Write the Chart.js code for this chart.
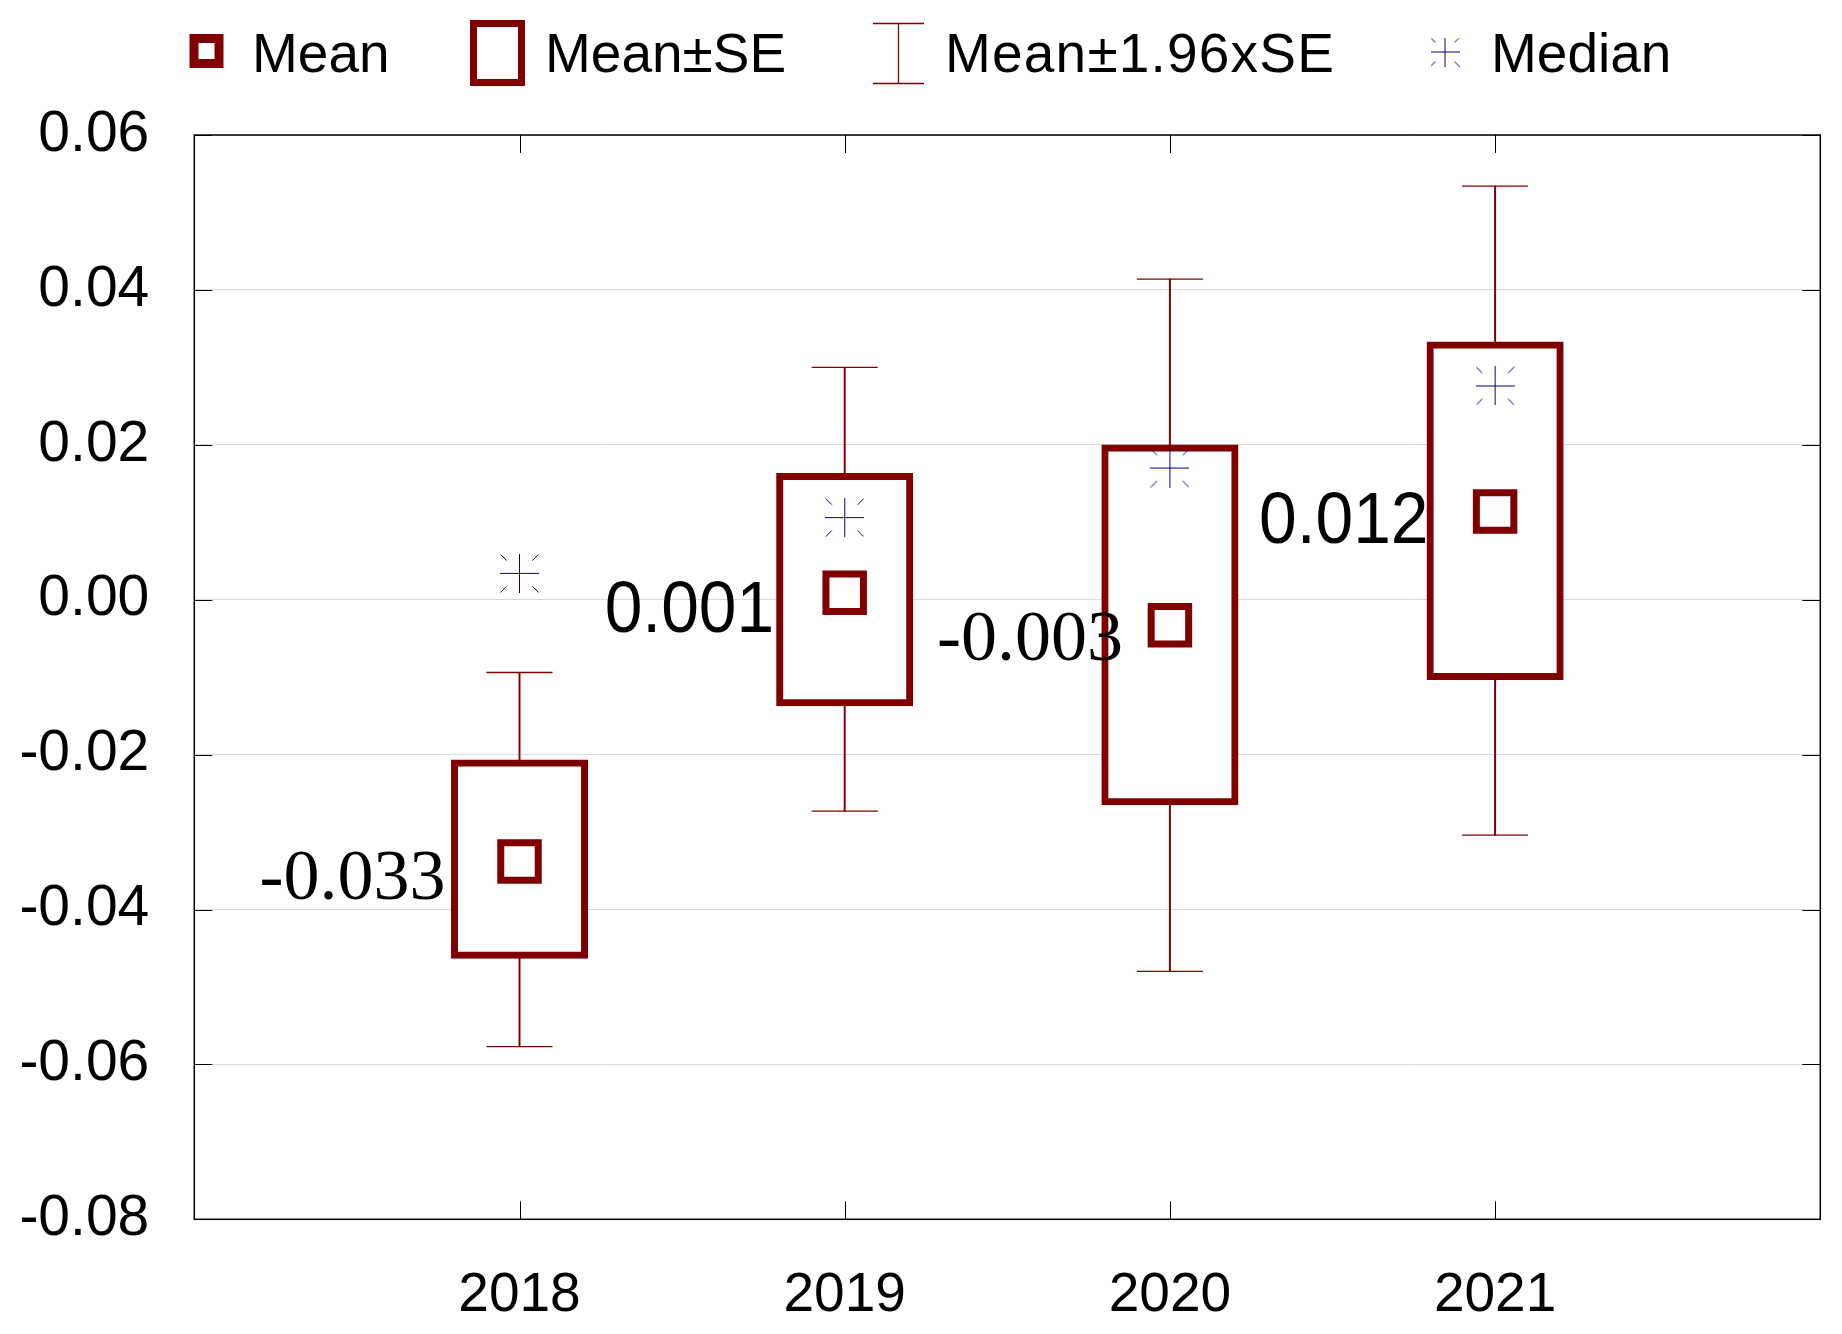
<!DOCTYPE html>
<html>
<head>
<meta charset="utf-8">
<script src="https://cdn.jsdelivr.net/npm/chart.js@4.4.1/dist/chart.umd.min.js"></script>
<style>
  html, body { margin: 0; padding: 0; background: #fff; overflow: hidden; }
  #mon-graphique { display: block; width: 1842px; height: 1334px; }
</style>
</head>
<body>
<canvas id="mon-graphique" width="1842" height="1334"></canvas>
<script>
// valeurs
const years = [2018, 2019, 2020, 2021];
const means = [-0.0338, 0.0009, -0.0033, 0.0114];
const meanText = ["-0.033", "0.001", "-0.003", "0.012"];
const seLow = [-0.0459, -0.0133, -0.0261, -0.0099];
const seHigh = [-0.0211, 0.0159, 0.0196, 0.0329];
const ciLow = [-0.0577, -0.0273, -0.0480, -0.0304];
const ciHigh = [-0.0094, 0.0300, 0.0414, 0.0534];
const medians = [0.0034, 0.0106, 0.0170, 0.0276];
const yTicks = [-0.08, -0.06, -0.04, -0.02, 0.00, 0.02, 0.04, 0.06];

const ROUGE = "#800000";
const MARINE = "#000080";
const SANS = '"Liberation Sans", Arial, sans-serif';
const SERIF = '"Liberation Serif", "Times New Roman", serif';

// petite étoile : croix pleine + bouts de diagonales
function etoile(taille, epais) {
  const c = document.createElement("canvas");
  c.width = taille; c.height = taille;
  const g = c.getContext("2d");
  const h = taille / 2;
  g.strokeStyle = MARINE;
  g.lineWidth = epais;
  g.beginPath();
  g.moveTo(h, 0); g.lineTo(h, taille);
  g.moveTo(0, h); g.lineTo(taille, h);
  [[-1, -1], [1, -1], [-1, 1], [1, 1]].forEach(([sx, sy]) => {
    g.moveTo(h + sx * h * 0.97, h + sy * h * 0.97);
    g.lineTo(h + sx * h * 0.66, h + sy * h * 0.66);
  });
  g.stroke();
  return c;
}

const etiquettes = {
  id: "etiquettes",
  afterDatasetsDraw(chart, args, opts) {
    const { ctx, scales: { x, y } } = chart;
    years.forEach((an, i) => {
      const px = x.getPixelForValue(an) + opts.dx[i];
      const py = y.getPixelForValue(means[i]) + opts.dy[i];
      const txt = meanText[i];
      ctx.save();
      ctx.fillStyle = "#000";
      ctx.textAlign = "left";
      ctx.textBaseline = "alphabetic";
      ctx.translate(px, py);
      if (txt.startsWith("-")) {
        ctx.font = "72px " + SERIF;
      } else {
        ctx.font = "72px " + SANS;
        ctx.scale(0.94, 1);
      }
      ctx.fillText(txt, 0, 0);
      ctx.restore();
    });
  }
};

const cadre = {
  id: "cadre",
  afterDatasetsDraw(chart) {
    const { ctx, chartArea: a, scales: { x, y } } = chart;
    const L = 18;
    ctx.save();
    ctx.strokeStyle = "#000";
    ctx.lineWidth = 1;
    ctx.beginPath();
    x.ticks.forEach(t => {
      const px = Math.round(x.getPixelForValue(t.value)) + 0.5;
      ctx.moveTo(px, a.bottom); ctx.lineTo(px, a.bottom - L);
      ctx.moveTo(px, a.top); ctx.lineTo(px, a.top + L);
    });
    y.ticks.forEach(t => {
      const py = Math.round(y.getPixelForValue(t.value)) + 0.5;
      ctx.moveTo(a.left, py); ctx.lineTo(a.left + L, py);
      ctx.moveTo(a.right, py); ctx.lineTo(a.right - L, py);
    });
    ctx.stroke();
    ctx.lineWidth = 1.5;
    ctx.strokeRect(a.left, a.top, a.right - a.left, a.bottom - a.top);
    ctx.restore();
  }
};

const legende = {
  id: "legende",
  afterDraw(chart) {
    const ctx = chart.ctx;
    ctx.save();
    // Mean
    ctx.strokeStyle = ROUGE;
    ctx.lineWidth = 9;
    ctx.strokeRect(194, 38.5, 25, 25);
    // Mean±SE
    ctx.lineWidth = 7;
    ctx.strokeRect(473.5, 23.5, 48, 59);
    // Mean±1.96xSE
    ctx.lineWidth = 1.3;
    ctx.beginPath();
    ctx.moveTo(873, 23.5); ctx.lineTo(924, 23.5);
    ctx.moveTo(873, 83.5); ctx.lineTo(924, 83.5);
    ctx.moveTo(898.5, 23.5); ctx.lineTo(898.5, 83.5);
    ctx.stroke();
    // Median
    const e = etoile(29, 1);
    ctx.drawImage(e, 1445 - 14.5, 52 - 14.5);
    ctx.fillStyle = "#000";
    ctx.font = "55px " + SANS;
    ctx.textBaseline = "alphabetic";
    ctx.fillText("Mean", 252, 71.5);
    ctx.fillText("Mean±SE", 545, 71.5);
    ctx.letterSpacing = "1.2px";
    ctx.fillText("Mean±1.96xSE", 945, 71.5);
    ctx.letterSpacing = "0px";
    ctx.fillText("Median", 1491, 71.5);
    ctx.restore();
  }
};

const pts = (vals) => years.map((an, i) => ({ x: an, y: vals[i] }));
const plage = (lo, hi) => years.map((an, i) => ({ x: an, y: [lo[i], hi[i]] }));

const configurations = {
  type: "bar",
  data: {
    datasets: [
      {
        type: "scatter",
        label: "Mean",
        data: pts(means),
        pointStyle: "rect",
        pointRadius: 26.5,
        pointBorderWidth: 7,
        pointBorderColor: ROUGE,
        pointBackgroundColor: "#fff"
      },
      {
        type: "scatter",
        label: "Median",
        data: pts(medians),
        pointStyle: etoile(39, 1),
        pointRadius: 19
      },
      {
        label: "Mean±SE",
        data: plage(seLow, seHigh),
        backgroundColor: "#fff",
        borderColor: ROUGE,
        borderWidth: 7,
        borderSkipped: false,
        inflateAmount: 3.5,
        grouped: false,
        categoryPercentage: 1,
        barPercentage: 0.4
      },
      {
        type: "scatter",
        label: "caps",
        data: pts(ciLow).concat(pts(ciHigh)),
        pointStyle: "line",
        pointRadius: 33,
        pointBorderWidth: 1.3,
        pointBorderColor: ROUGE
      },
      {
        label: "Mean±1.96xSE",
        data: plage(ciLow, ciHigh),
        backgroundColor: ROUGE,
        borderWidth: 0,
        grouped: false,
        barThickness: 1.3
      }
    ]
  },
  options: {
    responsive: false,
    devicePixelRatio: 1,
    animation: false,
    events: [],
    layout: { autoPadding: false, padding: { top: 135, right: 21.7, left: 0, bottom: 0 } },
    plugins: {
      legend: { display: false },
      tooltip: { enabled: false },
      etiquettes: { dx: [-260, -240, -233, -236], dy: [38, 39, 35, 32] }
    },
    scales: {
      x: {
        type: "linear",
        min: 2017,
        max: 2022,
        offset: false,
        grid: { display: false, drawTicks: false },
        border: { display: false },
        afterBuildTicks: (axe) => { axe.ticks = years.map(v => ({ value: v })); },
        afterFit: (axe) => {
          axe.height = 114.7;
          axe.paddingLeft = 0;
          axe.paddingRight = 0;
        },
        ticks: {
          padding: 44,
          color: "#000",
          font: { family: SANS, size: 55 },
          callback: (v) => String(v)
        }
      },
      y: {
        type: "linear",
        min: -0.08,
        max: 0.06,
        grid: { color: "#d9d9d9", lineWidth: 1, drawTicks: false },
        border: { display: false },
        afterBuildTicks: (axe) => { axe.ticks = yTicks.map(v => ({ value: v })); },
        afterFit: (axe) => {
          axe.width = 194.3;
          axe.paddingTop = 0;
          axe.paddingBottom = 0;
        },
        ticks: {
          padding: 45,
          color: "#000",
          font: { family: SANS, size: 57 },
          callback: (v) => v.toFixed(2)
        }
      }
    }
  },
  plugins: [cadre, etiquettes, legende]
};

const contexte = document.querySelector("#mon-graphique").getContext("2d");
new Chart(contexte, configurations);
</script>
</body>
</html>
